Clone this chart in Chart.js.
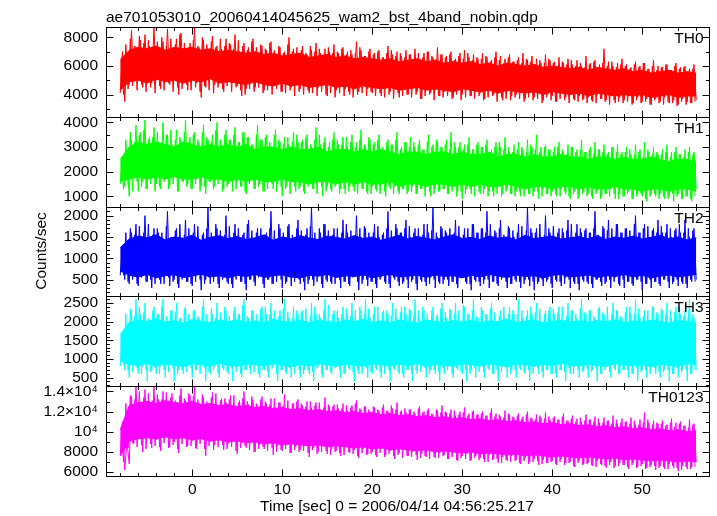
<!DOCTYPE html>
<html>
<head>
<meta charset="utf-8">
<script src="https://cdn.jsdelivr.net/npm/chart.js@4.4.0/dist/chart.umd.min.js"></script>
<style>
  html, body { margin: 0; padding: 0; background: #fff; }
  #wrap { width: 717px; height: 516px; }
</style>
</head>
<body>
<div id="wrap"><canvas id="lc" width="717" height="516"></canvas></div>
<script>
// fine bins start at -8 s, one value every 0.25 s up to 56 s;
// the "b" series sit half a bin later (-7.875 s .. 55.875 s)
const timeStart = -8;
const binSize = 0.25;
// dense core of each band, one low/high pair per second
const coreStep = 1;
const bandNames = ['TH0', 'TH1', 'TH2', 'TH3', 'TH0123'];
const timeTicks = [0, 10, 20, 30, 40, 50];

const th0 = [
  4100, 7000, 3500, 6800, 4700, 8500, 4900, 7300, 5400, 7800, 4500, 8200, 5200, 7400, 4800, 8700,
  5000, 7200, 4400, 7700, 5300, 8600, 4700, 7100, 5500, 7900, 4000, 8300, 5100, 7000, 4300, 7600,
  5200, 8700, 4800, 7300, 3800, 7800, 4500, 7100, 5400, 8100, 4700, 7400, 5100, 7200, 4200, 7900,
  4900, 7500, 5300, 8200, 4600, 7000, 3900, 7600, 4400, 7300, 5200, 7900, 4500, 6900, 5000, 7400,
  4300, 7100, 4900, 7700, 4600, 6800, 5100, 7300, 4200, 7000, 4800, 8000, 4500, 7200, 4700, 6900,
  4400, 7400, 4900, 6800, 4100, 7100, 4700, 7600, 4500, 6900, 5000, 7200, 3900, 7000, 4600, 7500,
  4300, 6900, 4800, 7300, 4400, 7000, 4000, 6800, 4700, 7700, 4200, 7100, 4600, 6700, 4400, 7200,
  4100, 6900, 4500, 7100, 3900, 6600, 4600, 7400, 4200, 6800, 4400, 7000, 3800, 6700, 4500, 7100,
  4000, 6800, 4400, 7200, 4200, 6500, 3700, 6900, 4500, 7000, 4100, 6600, 4300, 7300, 3900, 6800,
  4200, 6700, 4400, 7000, 3800, 6500, 4300, 6900, 4000, 7100, 4500, 6600, 3900, 6800, 4200, 6500,
  4100, 6900, 3700, 6600, 4300, 6400, 4000, 7000, 4400, 6700, 3600, 6500, 4200, 6800, 3900, 6300,
  4000, 6600, 4300, 6900, 3700, 6400, 4100, 6700, 3800, 6500, 4200, 6200, 3600, 6800, 4000, 6400,
  3900, 6300, 3500, 6600, 4100, 6200, 3800, 6500, 4000, 6100, 3600, 6400, 3900, 6000, 3700, 6700,
  3800, 6200, 3500, 6400, 4000, 6100, 3700, 7200, 3600, 6300, 3900, 6000, 3400, 6200, 3800, 6500,
  3600, 6100, 3900, 5900, 3400, 6300, 3800, 6000, 3500, 6200, 3700, 5800, 3300, 6400, 3700, 6000,
  3500, 5900, 3800, 6100, 3400, 5700, 3600, 6200, 3300, 5900, 3700, 6000, 3500, 5800, 3400, 6100,
  3600
];
const th0b = [
  6600, 4000, 7500, 4400, 7900, 4600, 7400, 4300, 8100, 4700, 7600, 4200, 7800, 4500, 7300, 4100,
  7700, 4600, 8000, 4300, 7400, 4800, 7900, 4200, 7500, 4500, 8200, 4400, 7600, 4700, 7300, 4300,
  7800, 4500, 7400, 4200, 8000, 4600, 7500, 4300, 7700, 4100, 7300, 4500, 7900, 4400, 7400, 4600,
  7600, 4200, 7200, 4500, 7800, 4300, 7400, 4000, 7100, 4400, 7700, 4200, 7300, 4500, 7500, 4100,
  7200, 4300, 7600, 4000, 7100, 4400, 7400, 4200, 6900, 4100, 7500, 4300, 7000, 3900, 7300, 4200,
  7100, 4000, 6900, 4300, 7400, 4100, 7000, 3900, 7200, 4200, 6800, 4000, 7300, 4100, 6900, 3800,
  7000, 4100, 7200, 3900, 6800, 4200, 7100, 3800, 6900, 4000, 7300, 4100, 6700, 3900, 7000, 4200,
  6800, 3900, 7000, 4100, 6600, 3800, 6900, 4000, 7100, 3700, 6700, 4100, 6900, 3900, 6600, 4000,
  6800, 3800, 6500, 4000, 6900, 3700, 6600, 3900, 7000, 4000, 6700, 3600, 6500, 3900, 6800, 3800,
  6600, 3900, 6800, 3700, 6400, 4000, 6700, 3600, 6500, 3800, 6900, 3900, 6400, 3700, 6600, 3900,
  6500, 3600, 6700, 3800, 6300, 3900, 6600, 3500, 6400, 3800, 6200, 3700, 6600, 3600, 6300, 3800,
  6400, 3700, 6200, 3500, 6500, 3800, 6300, 3600, 6100, 3700, 6400, 3400, 6200, 3800, 6500, 3600,
  6200, 3500, 6000, 3700, 6300, 3600, 6100, 3400, 6400, 3700, 6000, 3500, 6200, 3600, 5900, 3400,
  6100, 3600, 6300, 3400, 5900, 3700, 6200, 3500, 6000, 3300, 6300, 3600, 5900, 3500, 6100, 3400,
  6000, 3500, 5800, 3300, 6100, 3600, 5900, 3400, 6200, 3500, 5800, 3300, 6000, 3600, 5700, 3400,
  5900, 3300, 6100, 3500, 5700, 3400, 6000, 3200, 5800, 3500, 5900, 3300, 5600, 3400, 5800, 3500
];
const th1 = [
  1500, 2600, 1400, 2400, 1000, 3300, 1800, 3900, 1200, 3600, 1600, 4100, 1300, 3400, 1700, 3800,
  1500, 3200, 1300, 4000, 1700, 3500, 1400, 3100, 1900, 3700, 1200, 3300, 1600, 4100, 1500, 3400,
  1300, 3600, 1700, 3200, 1400, 3900, 1100, 3300, 1600, 3500, 1400, 4000, 1800, 3100, 1300, 3700,
  1500, 3300, 1200, 3800, 1600, 3200, 1400, 3600, 1100, 3400, 1700, 3100, 1300, 3900, 1500, 3300,
  1200, 3500, 1600, 3000, 1300, 3700, 1500, 3200, 1000, 3400, 1400, 3100, 1600, 3600, 1200, 3200,
  1400, 3300, 1100, 3500, 1500, 3000, 1300, 3800, 1600, 3100, 1000, 3400, 1400, 3200, 1200, 3600,
  1500, 3100, 1300, 3400, 1100, 3000, 1400, 3500, 1200, 3200, 1500, 3700, 1300, 3000, 1100, 3300,
  1400, 3200, 1200, 3500, 1500, 2900, 1000, 3300, 1300, 3100, 1400, 3600, 1100, 3000, 1300, 3200,
  1200, 3400, 1400, 3000, 1100, 3300, 1300, 2900, 1500, 3500, 1000, 3100, 1300, 3200, 1200, 3000,
  1300, 3300, 1100, 3600, 1400, 3000, 1200, 3200, 900, 3100, 1300, 3400, 1100, 2900, 1400, 3200,
  1100, 3000, 1300, 3300, 1200, 2900, 1000, 3200, 1400, 3000, 1100, 3400, 1300, 2800, 1100, 3100,
  1200, 3200, 1000, 2900, 1300, 3300, 1100, 3000, 1200, 3500, 900, 3000, 1300, 3100, 1100, 2900,
  1200, 3000, 1000, 3200, 1300, 2800, 1100, 3100, 900, 3000, 1200, 2900, 1000, 3300, 1200, 2800,
  1100, 3000, 900, 3200, 1200, 2900, 1000, 3100, 1100, 2800, 1300, 3000, 900, 3100, 1100, 2800,
  1000, 3000, 1200, 2700, 900, 3100, 1100, 2900, 1000, 3200, 800, 2800, 1100, 3000, 1000, 2700,
  1100, 2900, 900, 3100, 1000, 2800, 800, 3000, 1100, 2700, 900, 2900, 1000, 3000, 800, 2800,
  1300
];
const th1b = [
  2400, 1300, 3300, 1500, 3600, 1200, 3200, 1600, 3500, 1400, 3700, 1300, 3300, 1500, 3400, 1200,
  3600, 1400, 3200, 1600, 3500, 1300, 3700, 1500, 3300, 1200, 3400, 1600, 3600, 1400, 3200, 1300,
  3500, 1500, 3300, 1200, 3600, 1400, 3400, 1600, 3200, 1300, 3700, 1500, 3300, 1200, 3500, 1400,
  3300, 1600, 3500, 1300, 3200, 1400, 3600, 1200, 3400, 1500, 3100, 1300, 3500, 1400, 3300, 1200,
  3400, 1300, 3200, 1500, 3500, 1200, 3300, 1400, 3100, 1300, 3400, 1100, 3200, 1400, 3500, 1300,
  3200, 1200, 3400, 1400, 3100, 1300, 3300, 1100, 3500, 1400, 3200, 1200, 3000, 1300, 3300, 1400,
  3300, 1100, 3100, 1300, 3400, 1200, 3200, 1400, 3000, 1100, 3300, 1300, 3100, 1200, 3400, 1100,
  3100, 1300, 3300, 1100, 3000, 1200, 3200, 1400, 3100, 1100, 3300, 1200, 2900, 1300, 3200, 1100,
  3000, 1200, 3200, 1100, 3100, 1300, 2900, 1000, 3200, 1200, 3000, 1100, 3300, 1200, 3000, 1300,
  3100, 1100, 2900, 1200, 3200, 1000, 3000, 1200, 2900, 1100, 3100, 1300, 2900, 1000, 3100, 1200,
  3000, 1100, 3100, 1000, 2800, 1200, 3000, 1100, 3200, 1000, 2900, 1200, 3000, 1100, 2800, 1000,
  2900, 1200, 3000, 1000, 2800, 1100, 3100, 1000, 2900, 1200, 2800, 1000, 3000, 1100, 2900, 1000,
  2800, 1100, 3000, 1000, 2900, 1200, 2700, 1000, 3000, 1100, 2800, 900, 2900, 1100, 2800, 1000,
  2900, 1000, 2700, 1100, 2900, 900, 2800, 1100, 2700, 1000, 3000, 1100, 2800, 900, 2700, 1000,
  2800, 1100, 2900, 900, 2700, 1000, 2800, 1100, 2600, 900, 2900, 1000, 2700, 1100, 2800, 900,
  2700, 1000, 2800, 900, 2600, 1100, 2800, 1000, 2700, 900, 2600, 1000, 2800, 900, 2700, 1000
];
const th2 = [
  600, 1300, 500, 1200, 400, 1600, 700, 1800, 350, 1500, 600, 2000, 450, 1400, 300, 1700,
  550, 1600, 400, 1300, 650, 2100, 350, 1500, 500, 1700, 300, 1400, 600, 1900, 450, 1500,
  350, 1800, 600, 1400, 250, 1600, 500, 2200, 400, 1500, 650, 1700, 300, 1300, 550, 2000,
  400, 1500, 300, 1800, 600, 1400, 450, 1600, 250, 1900, 500, 1400, 350, 1700, 600, 1500,
  300, 1600, 500, 2100, 400, 1400, 650, 1700, 300, 1500, 450, 1800, 350, 1400, 550, 1900,
  400, 1500, 250, 1700, 500, 2200, 350, 1400, 600, 1600, 300, 1800, 450, 1500, 400, 1700,
  550, 1400, 300, 1900, 450, 1600, 350, 1500, 600, 2000, 250, 1500, 500, 1700, 350, 1400,
  450, 1800, 300, 1500, 550, 1600, 400, 2100, 300, 1400, 500, 1700, 350, 1600, 450, 1900,
  300, 1500, 500, 1700, 250, 1400, 450, 1800, 350, 1600, 550, 2200, 300, 1500, 400, 1700,
  500, 1600, 350, 1400, 450, 1900, 300, 1500, 600, 1700, 400, 1500, 250, 1800, 450, 1600,
  350, 1700, 500, 2100, 300, 1500, 450, 1600, 350, 1900, 550, 1400, 300, 1700, 400, 1500,
  450, 1800, 300, 1500, 500, 2200, 350, 1600, 250, 1700, 450, 1500, 350, 2000, 500, 1600,
  300, 1500, 450, 1700, 350, 1600, 550, 1900, 300, 1500, 400, 1800, 250, 1600, 450, 1700,
  400, 1600, 300, 2100, 500, 1500, 350, 1700, 450, 1900, 300, 1500, 550, 1800, 350, 1600,
  300, 1700, 450, 1500, 350, 2000, 500, 1600, 250, 1800, 400, 1500, 300, 1700, 450, 1900,
  350, 1600, 500, 1800, 300, 1500, 450, 1700, 350, 1600, 400, 1900, 300, 1500, 450, 1700,
  500
];
const th2b = [
  1200, 600, 1600, 450, 1700, 500, 1550, 400, 1750, 550, 1600, 450, 1800, 500, 1550, 400,
  1700, 500, 1600, 400, 1750, 550, 1500, 450, 1650, 400, 1800, 500, 1550, 450, 1700, 400,
  1600, 450, 1750, 500, 1550, 400, 1700, 550, 1600, 450, 1800, 400, 1650, 500, 1550, 450,
  1750, 400, 1600, 500, 1700, 450, 1550, 400, 1800, 500, 1650, 450, 1600, 550, 1700, 400,
  1550, 500, 1700, 400, 1650, 450, 1800, 500, 1600, 400, 1750, 550, 1550, 450, 1700, 500,
  1650, 450, 1550, 400, 1750, 500, 1600, 450, 1700, 400, 1800, 500, 1650, 450, 1550, 400,
  1700, 500, 1600, 450, 1800, 400, 1650, 550, 1550, 450, 1700, 400, 1750, 500, 1600, 450,
  1600, 400, 1750, 500, 1550, 450, 1700, 400, 1650, 550, 1800, 450, 1600, 400, 1700, 500,
  1750, 450, 1600, 400, 1700, 500, 1550, 450, 1800, 400, 1650, 500, 1600, 450, 1750, 400,
  1650, 500, 1700, 450, 1600, 400, 1750, 550, 1550, 450, 1700, 400, 1800, 500, 1600, 450,
  1700, 400, 1600, 500, 1800, 450, 1650, 400, 1700, 500, 1550, 450, 1750, 400, 1650, 500,
  1600, 450, 1750, 400, 1650, 500, 1700, 450, 1600, 400, 1800, 500, 1550, 450, 1700, 400,
  1750, 500, 1600, 450, 1700, 400, 1650, 500, 1800, 450, 1600, 400, 1700, 500, 1650, 450,
  1600, 400, 1700, 500, 1550, 450, 1750, 400, 1650, 500, 1700, 450, 1800, 400, 1600, 500,
  1700, 450, 1650, 400, 1800, 500, 1600, 450, 1700, 400, 1750, 500, 1650, 450, 1600, 400,
  1750, 500, 1600, 450, 1700, 400, 1650, 500, 1800, 450, 1600, 400, 1700, 500, 1650, 450
];
const th3 = [
  800, 1700, 700, 1500, 500, 2300, 900, 2600, 600, 2200, 800, 2500, 400, 2000, 700, 2400,
  600, 2200, 800, 2600, 500, 2000, 900, 2300, 400, 2500, 700, 2100, 600, 2400, 800, 2000,
  500, 2300, 700, 2100, 900, 2600, 400, 2000, 600, 2200, 800, 2500, 500, 2100, 700, 2300,
  600, 2000, 400, 2400, 800, 2200, 500, 2600, 700, 2100, 600, 2300, 900, 2000, 500, 2400,
  700, 2200, 500, 2500, 800, 2000, 400, 2300, 700, 2600, 600, 2100, 500, 2400, 800, 2200,
  500, 2300, 700, 2000, 600, 2500, 400, 2200, 800, 2100, 500, 2600, 700, 2000, 600, 2300,
  800, 2100, 500, 2400, 600, 2200, 700, 2500, 400, 2000, 600, 2300, 800, 2600, 500, 2100,
  600, 2400, 700, 2000, 500, 2300, 800, 2200, 400, 2500, 700, 2100, 600, 2400, 500, 2200,
  700, 2300, 400, 2600, 600, 2100, 800, 2300, 500, 2000, 700, 2400, 600, 2200, 400, 2500,
  600, 2100, 800, 2300, 500, 2500, 700, 2000, 600, 2400, 400, 2200, 700, 2600, 500, 2100,
  800, 2300, 500, 2200, 700, 2500, 600, 2000, 400, 2300, 800, 2100, 500, 2400, 700, 2200,
  500, 2600, 700, 2100, 600, 2300, 400, 2200, 800, 2500, 600, 2000, 500, 2300, 700, 2400,
  600, 2200, 500, 2400, 700, 2000, 400, 2500, 600, 2300, 800, 2100, 500, 2600, 700, 2200,
  500, 2300, 700, 2100, 400, 2400, 600, 2200, 800, 2000, 500, 2500, 700, 2300, 600, 2100,
  700, 2400, 500, 2200, 600, 2600, 400, 2100, 700, 2300, 500, 2000, 800, 2400, 600, 2200,
  500, 2300, 700, 2500, 400, 2100, 600, 2400, 500, 2200, 700, 2300, 400, 2600, 600, 2100,
  700
];
const th3b = [
  1600, 850, 2200, 700, 2350, 650, 2150, 750, 2400, 600, 2250, 700, 2100, 650, 2300, 750,
  2200, 600, 2400, 700, 2150, 650, 2300, 750, 2250, 600, 2100, 700, 2350, 650, 2200, 750,
  2300, 700, 2150, 600, 2400, 750, 2200, 650, 2350, 700, 2100, 600, 2250, 750, 2400, 650,
  2150, 750, 2300, 650, 2200, 600, 2450, 700, 2150, 750, 2300, 650, 2200, 600, 2350, 700,
  2400, 650, 2200, 750, 2300, 600, 2150, 700, 2350, 650, 2250, 750, 2100, 600, 2300, 700,
  2250, 600, 2350, 700, 2150, 650, 2400, 750, 2200, 600, 2300, 700, 2450, 650, 2200, 750,
  2300, 700, 2200, 600, 2350, 750, 2150, 650, 2300, 700, 2400, 600, 2200, 750, 2350, 650,
  2200, 750, 2400, 650, 2250, 600, 2300, 700, 2150, 750, 2350, 650, 2250, 600, 2400, 700,
  2350, 600, 2150, 700, 2300, 650, 2400, 750, 2200, 600, 2300, 700, 2150, 650, 2350, 750,
  2250, 700, 2350, 600, 2200, 750, 2300, 650, 2450, 700, 2200, 600, 2300, 750, 2150, 650,
  2400, 650, 2200, 750, 2350, 600, 2250, 700, 2150, 650, 2400, 750, 2200, 600, 2300, 700,
  2200, 750, 2300, 650, 2150, 700, 2400, 600, 2250, 750, 2350, 650, 2200, 700, 2300, 600,
  2350, 600, 2250, 700, 2400, 650, 2150, 750, 2300, 600, 2200, 700, 2350, 650, 2250, 750,
  2300, 650, 2150, 750, 2350, 600, 2250, 700, 2400, 650, 2200, 750, 2300, 600, 2150, 700,
  2250, 700, 2400, 600, 2200, 750, 2350, 650, 2150, 700, 2300, 600, 2400, 750, 2250, 650,
  2350, 650, 2200, 700, 2300, 600, 2250, 750, 2400, 650, 2150, 700, 2300, 600, 2200, 700
];
const th0123 = [
  7600, 11000, 6200, 9000, 6800, 13500, 8800, 14500, 9300, 12800, 8000, 14200, 9600, 13000, 8400, 14500,
  9200, 13200, 8100, 14000, 9700, 12600, 8500, 13800, 9000, 12900, 7900, 14300, 9400, 13100, 8600, 13600,
  9100, 14500, 8300, 12800, 9500, 13400, 7600, 12700, 9000, 13900, 8700, 12600, 9300, 13300, 8200, 12900,
  8800, 13600, 9200, 12500, 7800, 13100, 8900, 14000, 8400, 12700, 9100, 13200, 8000, 12600, 8700, 13500,
  8300, 12800, 8900, 13300, 7700, 12400, 8600, 12900, 8100, 13700, 8800, 12300, 7900, 12800, 8500, 13200,
  8200, 12600, 8700, 13000, 7500, 12400, 8400, 12900, 8000, 12200, 8600, 13400, 7800, 12500, 8300, 12700,
  8100, 12300, 7600, 12800, 8500, 12100, 7900, 12600, 8200, 13100, 7400, 12200, 8300, 12500, 7800, 12000,
  8000, 12400, 7500, 12100, 8300, 12700, 7700, 12000, 8100, 12300, 7300, 12900, 7900, 12100, 8200, 11900,
  7600, 12200, 8000, 11800, 7200, 12500, 7800, 12000, 7500, 12300, 8100, 11700, 7400, 12100, 7900, 12600,
  7700, 11900, 7300, 12200, 7900, 11600, 7100, 12000, 7600, 12400, 7800, 11800, 7200, 12100, 7600, 11700,
  7400, 12000, 7000, 11600, 7700, 12300, 7300, 11800, 6900, 11500, 7500, 12100, 7100, 11700, 7600, 11400,
  7200, 11800, 6800, 11500, 7400, 12000, 7000, 11300, 7300, 11700, 6700, 11400, 7200, 11900, 6900, 11200,
  7100, 11500, 6700, 11200, 7300, 11800, 6900, 11100, 7000, 11600, 6500, 11300, 7100, 11000, 6800, 11700,
  6900, 11200, 6600, 11500, 7100, 10900, 6700, 11400, 6400, 11100, 7000, 11600, 6600, 10800, 6900, 11300,
  6700, 11000, 6300, 11400, 6900, 10700, 6500, 11200, 6800, 11900, 6400, 10900, 6700, 11100, 6200, 10800,
  6600, 11100, 6300, 10700, 6800, 11300, 6400, 10900, 6100, 11000, 6600, 10600, 6300, 11200, 6500, 10800,
  7000
];
const th0123b = [
  10500, 7000, 12800, 8400, 13600, 8900, 13200, 8500, 14000, 8700, 13400, 8300, 13800, 8800, 13100, 8600,
  13700, 8500, 13200, 8900, 13900, 8400, 13400, 8700, 13100, 8300, 13600, 8800, 13300, 8500, 13800, 8600,
  13500, 8400, 13200, 8800, 13700, 8300, 13000, 8600, 13400, 8200, 13800, 8500, 13100, 8700, 13300, 8300,
  13200, 8500, 13600, 8100, 12900, 8400, 13300, 8600, 13000, 8200, 13500, 8000, 12800, 8300, 13200, 8500,
  13000, 8100, 12700, 8400, 13300, 8000, 12900, 8200, 12600, 8300, 13100, 7900, 12800, 8200, 13000, 8000,
  12800, 8100, 12500, 7900, 13000, 8200, 12600, 7800, 12900, 8000, 12400, 8100, 12700, 7700, 12500, 8000,
  12700, 7900, 12300, 7700, 12600, 8000, 12400, 7800, 12800, 7600, 12300, 7900, 12500, 7700, 12200, 7800,
  12500, 7700, 12200, 7900, 12400, 7500, 12100, 7800, 12600, 7600, 12200, 7700, 12000, 7400, 12300, 7600,
  12200, 7500, 12000, 7700, 12300, 7400, 11900, 7600, 12100, 7300, 11800, 7500, 12200, 7400, 11900, 7600,
  12000, 7300, 11800, 7500, 12100, 7200, 11700, 7400, 11900, 7300, 11600, 7100, 12000, 7400, 11700, 7200,
  11800, 7300, 11600, 7000, 11900, 7200, 11500, 7300, 11700, 6900, 11400, 7200, 11800, 7000, 11500, 7100,
  11600, 6900, 11300, 7100, 11700, 6800, 11400, 7000, 11200, 7100, 11600, 6800, 11300, 6900, 11500, 7000,
  11400, 6800, 11200, 7000, 11500, 6700, 11100, 6900, 11300, 6600, 11000, 6900, 11400, 6700, 11100, 6800,
  11200, 6700, 11000, 6500, 11300, 6800, 10900, 6600, 11100, 6700, 10800, 6400, 11200, 6600, 10900, 6700,
  11000, 6500, 10800, 6700, 11100, 6400, 10700, 6600, 10900, 6300, 11200, 6500, 10700, 6600, 10900, 6400,
  10800, 6500, 10600, 6300, 10900, 6600, 10500, 6400, 10800, 6200, 10600, 6500, 10400, 6300, 10700, 6500
];

// dense core, lower and upper edge per second (-8 .. 56 s)
const th0Low = [
  4300, 4900, 5000, 4800, 5100, 4900, 5000, 4800, 5000, 4900, 5100, 4800, 4900,
  4800, 4700, 4900, 4700, 4600, 4800, 4600, 4700, 4500, 4600, 4700, 4500, 4600,
  4400, 4600, 4500, 4400, 4500, 4300, 4400, 4500, 4300, 4400, 4300, 4200, 4400,
  4300, 4200, 4300, 4100, 4300, 4200, 4100, 4200, 4000, 4200, 4100, 4000, 4100,
  3900, 4100, 4000, 3900, 4000, 3900, 4000, 3800, 3900, 4000, 3800, 3900, 3900
];
const th0High = [
  6400, 7100, 7300, 7200, 7400, 7100, 7300, 7200, 7300, 7100, 7200, 7000, 7100,
  7000, 6900, 7000, 6800, 6900, 6700, 6800, 6900, 6600, 6700, 6800, 6600, 6700,
  6500, 6600, 6500, 6400, 6500, 6300, 6400, 6500, 6300, 6400, 6200, 6300, 6200,
  6300, 6100, 6200, 6000, 6200, 6100, 6000, 6100, 5900, 6000, 5900, 5800, 5900,
  5700, 5900, 5800, 5700, 5800, 5600, 5700, 5500, 5600, 5700, 5500, 5600, 5500
];
const th1Low = [
  1600, 1700, 1800, 1700, 1800, 1700, 1800, 1700, 1700, 1800, 1700, 1700, 1600,
  1700, 1600, 1700, 1600, 1600, 1700, 1600, 1600, 1500, 1600, 1600, 1500, 1600,
  1500, 1600, 1500, 1500, 1600, 1400, 1500, 1500, 1400, 1500, 1500, 1400, 1500,
  1400, 1500, 1400, 1400, 1500, 1400, 1300, 1400, 1400, 1300, 1400, 1400, 1300,
  1400, 1300, 1300, 1400, 1300, 1300, 1200, 1300, 1300, 1200, 1300, 1300, 1200
];
const th1High = [
  2500, 3000, 3200, 3100, 3200, 3100, 3000, 3200, 3100, 3000, 3100, 3000, 3100,
  3000, 3100, 2900, 3000, 3000, 2900, 3000, 2900, 2900, 3000, 2800, 2900, 2900,
  2800, 2900, 2800, 2900, 2800, 2700, 2800, 2800, 2700, 2800, 2800, 2700, 2800,
  2700, 2700, 2800, 2600, 2700, 2700, 2600, 2700, 2600, 2600, 2700, 2600, 2600,
  2500, 2600, 2600, 2500, 2600, 2500, 2500, 2600, 2500, 2400, 2500, 2500, 2400
];
const th2Low = [
  700, 600, 560, 620, 540, 590, 610, 550, 580, 630, 560, 590, 540,
  600, 570, 620, 550, 590, 610, 560, 540, 600, 580, 620, 550, 590,
  570, 610, 540, 590, 620, 560, 580, 600, 550, 610, 570, 590, 540,
  600, 560, 620, 580, 550, 610, 570, 590, 540, 600, 620, 560, 580,
  610, 550, 590, 570, 620, 560, 600, 540, 580, 610, 560, 590, 620
];
const th2High = [
  1250, 1450, 1520, 1480, 1550, 1430, 1500, 1470, 1540, 1420, 1490, 1530, 1460,
  1510, 1440, 1480, 1550, 1420, 1500, 1460, 1530, 1470, 1440, 1520, 1490, 1450,
  1530, 1460, 1500, 1420, 1480, 1540, 1450, 1510, 1470, 1430, 1500, 1550, 1460,
  1490, 1440, 1520, 1470, 1500, 1430, 1540, 1460, 1490, 1520, 1450, 1480, 1510,
  1460, 1530, 1440, 1500, 1470, 1520, 1450, 1490, 1540, 1460, 1500, 1430, 1480
];
const th3Low = [
  950, 850, 820, 880, 800, 860, 830, 790, 870, 840, 810, 880, 830,
  800, 860, 840, 810, 870, 830, 790, 850, 820, 880, 840, 800, 860,
  830, 800, 870, 840, 810, 860, 820, 880, 790, 850, 830, 800, 870,
  840, 810, 860, 830, 790, 870, 840, 800, 850, 820, 880, 830, 810,
  860, 820, 800, 870, 840, 810, 850, 790, 860, 830, 800, 870, 850
];
const th3High = [
  1650, 1980, 2050, 2000, 2080, 1990, 2030, 1960, 2060, 2010, 1970, 2040, 2000,
  2050, 1980, 2020, 1960, 2070, 2000, 1990, 2040, 1970, 2030, 2010, 1960, 2050,
  2000, 2060, 1980, 2020, 1970, 2040, 2010, 1960, 2050, 2000, 1980, 2030, 1990,
  2040, 1970, 2020, 2000, 2060, 1980, 2010, 2050, 1970, 2000, 2040, 1990, 2020,
  1980, 2030, 2000, 2050, 1970, 2020, 1990, 2040, 2000, 1960, 2030, 2010, 1980
];
const th0123Low = [
  7600, 9100, 9300, 9400, 9300, 9500, 9300, 9400, 9200, 9300, 9100, 9200, 9000,
  9100, 8900, 9000, 8800, 8900, 8700, 8800, 8700, 8600, 8700, 8500, 8600, 8500,
  8400, 8500, 8300, 8400, 8200, 8300, 8200, 8100, 8200, 8000, 8100, 8000, 7900,
  8000, 7800, 7900, 7800, 7700, 7800, 7600, 7700, 7600, 7500, 7600, 7500, 7400,
  7500, 7400, 7300, 7400, 7200, 7300, 7200, 7100, 7200, 7100, 7000, 7100, 7000
];
const th0123High = [
  10200, 12600, 12900, 13000, 12800, 13100, 12900, 12800, 13000, 12700, 12800, 12600, 12700,
  12500, 12600, 12400, 12500, 12300, 12400, 12200, 12300, 12100, 12200, 12000, 12100, 11900,
  12000, 11800, 11900, 11700, 11800, 11600, 11700, 11500, 11600, 11400, 11500, 11300, 11400,
  11200, 11300, 11100, 11200, 11000, 11100, 10900, 11000, 10800, 10900, 10700, 10800, 10600,
  10700, 10500, 10600, 10400, 10500, 10300, 10400, 10200, 10300, 10100, 10200, 10000, 10100
];

// axis limits and tick values per panel
const yRanges = [[2440, 8730], [583, 4231], [104, 2213], [267, 2679], [5604, 14525]];
const yMajorTicks = [
  [4000, 6000, 8000],
  [1000, 2000, 3000, 4000],
  [500, 1000, 1500, 2000],
  [500, 1000, 1500, 2000, 2500],
  [6000, 8000, 10000, 12000, 14000]
];
const yMinorStep = [1000, 500, 100, 100, 1000];

const bandSeries = [th0, th1, th2, th3, th0123];
const bandSeriesB = [th0b, th1b, th2b, th3b, th0123b];
const coreLow = [th0Low, th1Low, th2Low, th3Low, th0123Low];
const coreHigh = [th0High, th1High, th2High, th3High, th0123High];
const bandColors = ['rgb(255,0,0)', 'rgb(0,255,0)', 'rgb(0,0,255)', 'rgb(0,255,255)', 'rgb(255,0,255)'];

const FONT_FAMILY = '"Liberation Sans", Arial, Helvetica, sans-serif';
const FONT_SIZE = 15.5;

function tickText(v) {
  if (v === 14000) return '1.4×10⁴';
  if (v === 12000) return '1.2×10⁴';
  if (v === 10000) return '10⁴';
  return String(v);
}

const toPoints = (vals, start, step) => vals.map((v, i) => ({ x: start + i * step, y: v }));

const lineStyle = (p, order) => ({
  yAxisID: 'y' + p,
  borderColor: bandColors[p],
  borderWidth: 1,
  pointRadius: 0,
  tension: 0,
  order
});

const datasets = [];
bandSeries.forEach((vals, p) => {
  datasets.push({ ...lineStyle(p, 0), label: bandNames[p], data: toPoints(vals, timeStart, binSize), fill: false });
  datasets.push({ ...lineStyle(p, 0), label: bandNames[p] + ' b', data: toPoints(bandSeriesB[p], timeStart + binSize / 2, binSize), fill: false });
  datasets.push({ ...lineStyle(p, 1), label: bandNames[p] + ' low', data: toPoints(coreLow[p], timeStart, coreStep), fill: false });
  datasets.push({
    ...lineStyle(p, 1),
    label: bandNames[p] + ' high',
    data: toPoints(coreHigh[p], timeStart, coreStep),
    backgroundColor: bandColors[p],
    fill: '-1'
  });
});

const scales = {
  x: {
    type: 'linear',
    position: 'bottom',
    min: -9.58,
    max: 57.53,
    afterBuildTicks: s => { s.ticks = timeTicks.map(v => ({ value: v })); },
    afterFit: s => { s.height = 40; },
    grid: { display: false, drawTicks: false },
    border: { display: false },
    ticks: { color: '#000', font: { family: FONT_FAMILY, size: FONT_SIZE }, padding: 4, maxRotation: 0, autoSkip: false }
  }
};
bandNames.forEach((name, p) => {
  scales['y' + p] = {
    type: 'linear',
    position: 'left',
    stack: 'panels',
    stackWeight: 1,
    weight: 5 - p,
    min: yRanges[p][0],
    max: yRanges[p][1],
    afterBuildTicks: s => { s.ticks = yMajorTicks[p].map(v => ({ value: v })); },
    afterFit: s => { s.width = 106; },
    grid: { display: false, drawTicks: false },
    border: { display: false },
    ticks: {
      color: '#000',
      font: { family: FONT_FAMILY, size: FONT_SIZE },
      padding: 8,
      autoSkip: false,
      callback: v => tickText(v)
    }
  };
});

// frames, inward tick marks, panel names and titles, qdp style
const qdpFrame = {
  id: 'qdpFrame',
  afterDatasetsDraw(chart) {
    const { ctx, chartArea: area } = chart;
    const xs = chart.scales.x;
    const left = Math.round(area.left) + 0.5;
    const right = Math.round(area.right) - 0.5;
    ctx.save();
    ctx.strokeStyle = '#000';
    ctx.fillStyle = '#000';
    ctx.lineWidth = 1;
    ctx.font = FONT_SIZE + 'px ' + FONT_FAMILY;
    bandNames.forEach((name, p) => {
      const ys = chart.scales['y' + p];
      const top = Math.round(ys.top) + 0.5;
      const bottom = Math.round(ys.bottom) + 0.5;
      ctx.strokeRect(left, top, right - left, bottom - top);
      ctx.beginPath();
      const step = yMinorStep[p];
      for (let v = Math.ceil(yRanges[p][0] / step) * step; v <= yRanges[p][1]; v += step) {
        const len = yMajorTicks[p].includes(v) ? 7 : 3.5;
        const y = Math.round(ys.getPixelForValue(v)) + 0.5;
        ctx.moveTo(left, y); ctx.lineTo(left + len, y);
        ctx.moveTo(right, y); ctx.lineTo(right - len, y);
      }
      for (let t = -8; t <= 56; t += 2) {
        const len = t % 10 === 0 ? 7 : 3.5;
        const x = Math.round(xs.getPixelForValue(t)) + 0.5;
        ctx.moveTo(x, top); ctx.lineTo(x, top + len);
        ctx.moveTo(x, bottom); ctx.lineTo(x, bottom - len);
      }
      ctx.stroke();
      ctx.textAlign = 'right';
      ctx.textBaseline = 'alphabetic';
      ctx.fillText(name, right - 6, top + 15.5);
    });

    ctx.textAlign = 'left';
    ctx.fillText('ae701053010_20060414045625_wam2_bst_4band_nobin.qdp', left - 0.5, 21.5);

    ctx.textAlign = 'center';
    ctx.fillText('Time [sec] 0 = 2006/04/14 04:56:25.217', 397, 511);

    ctx.translate(46, 251);
    ctx.rotate(-Math.PI / 2);
    ctx.fillText('Counts/sec', 0, 0);
    ctx.restore();
  }
};

new Chart(document.getElementById('lc'), {
  type: 'line',
  data: { datasets },
  options: {
    responsive: false,
    animation: false,
    devicePixelRatio: 1,
    layout: { padding: { top: 27, right: 7, left: 0, bottom: 0 } },
    plugins: {
      legend: { display: false },
      tooltip: { enabled: false },
      title: { display: false }
    },
    scales
  },
  plugins: [qdpFrame]
});
</script>
</body>
</html>
